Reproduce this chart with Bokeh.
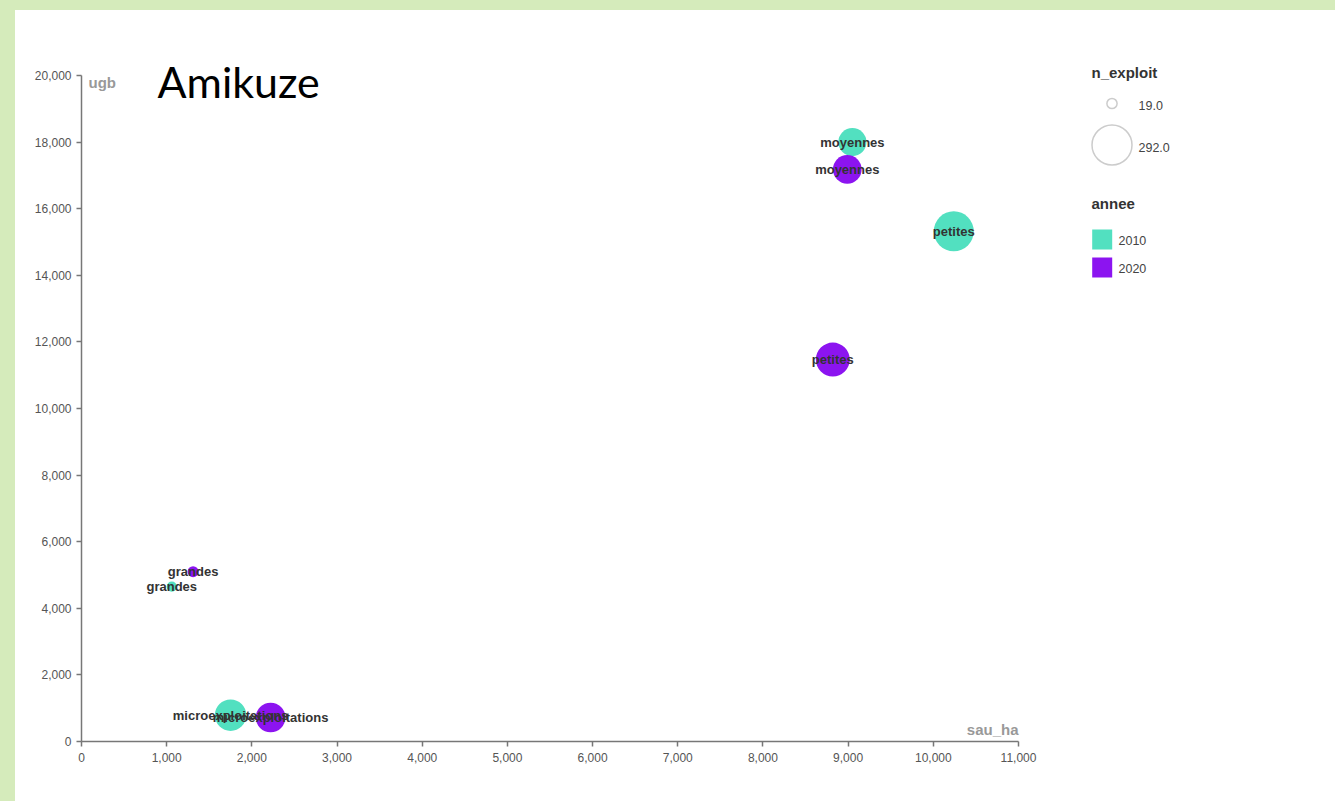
import math
from bokeh.plotting import figure
from bokeh.models import (Range1d, SingleIntervalTicker, NumeralTickFormatter,
                          LinearAxis, Label, ColumnDataSource, Spacer)
from bokeh.layouts import column, row
from bokeh.embed import file_html
from bokeh.resources import INLINE
from bokeh.core.properties import value

# ---------------- data ----------------
title_text = "Amikuze"
categories = ["microexploitations", "petites", "moyennes", "grandes"]
years = ["2010", "2020"]
sau_2010 = [1750, 10240, 9050, 1060]
ugb_2010 = [790, 15320, 18000, 4650]
n_2010 = [180, 292, 145, 19]
sau_2020 = [2220, 8820, 8990, 1310]
ugb_2020 = [720, 11470, 17180, 5100]
n_2020 = [160, 210, 150, 22]
x_axis_max = 11000
y_axis_max = 20000
x_tick_step = 1000
y_tick_step = 2000
year_colors = ["#52E0C0", "#8C14F0"]

# ---------------- layout constants (pixels) ----------------
PAD_L, PAD_T = 15, 10
W, H = 1320, 791
FL = 66          # frame left
FB = 731         # frame bottom (canvas px, from top)
X_PX = 937       # pixels spanned by 0..x_axis_max
Y_PX = 666       # pixels spanned by 0..y_axis_max
R_MAX = 20       # radius of largest bubble
GREEN = "#d5ebbb"


def dx(px):
    return (px - FL) * x_axis_max / X_PX


def dy(py):
    return (FB - py) * y_axis_max / Y_PX


n_all = n_2010 + n_2020
n_max = max(n_all)
n_min = min(n_all)


def bubble(n):
    return 2 * R_MAX * math.sqrt(n / n_max)


src = ColumnDataSource(dict(
    x=sau_2010 + sau_2020,
    y=ugb_2010 + ugb_2020,
    label=categories + categories,
    size=[bubble(v) for v in n_all],
    color=[year_colors[0]] * len(categories) + [year_colors[1]] * len(categories),
))

p = figure(width=W, height=H, x_range=Range1d(0, dx(W)), y_range=Range1d(0, dy(0)),
           output_backend="svg", toolbar_location=None,
           x_axis_type=None, y_axis_type=None,
           min_border_left=FL, min_border_bottom=H - FB,
           min_border_top=0, min_border_right=0,
           outline_line_color=None, background_fill_color="white",
           border_fill_color="white")
p.styles = {"background-color": "white"}

AX = dict(axis_line_color="#777777", axis_line_width=1.5,
          major_tick_line_color="#777777", major_tick_line_width=1.5,
          major_tick_in=0, major_tick_out=5,
          minor_tick_line_color=None,
          major_label_text_font="Liberation Sans",
          major_label_text_font_size="12px",
          major_label_text_color="#555555",
          formatter=NumeralTickFormatter(format="0,0"))

xaxis = LinearAxis(bounds=(0, x_axis_max), ticker=SingleIntervalTicker(interval=x_tick_step),
                   major_label_standoff=6, **AX)
yaxis = LinearAxis(bounds=(0, y_axis_max), ticker=SingleIntervalTicker(interval=y_tick_step),
                   major_label_standoff=5, **AX)
p.add_layout(xaxis, "below")
p.add_layout(yaxis, "left")

p.scatter("x", "y", size="size", fill_color="color", line_color=None, source=src)
p.text("x", "y", text="label", source=src, text_align="center", text_baseline="middle",
       text_font=value("Liberation Sans"), text_font_style="bold",
       text_font_size="13px", text_color="#333333")

# axis titles
p.add_layout(Label(x=dx(73), y=dy(72), text="ugb", text_align="left", text_baseline="middle",
                   text_font="Liberation Sans", text_font_style="bold",
                   text_font_size="15px", text_color="#999999"))
p.add_layout(Label(x=x_axis_max, y=dy(719), text="sau_ha", text_align="right",
                   text_baseline="middle", text_font="Liberation Sans",
                   text_font_style="bold", text_font_size="15px", text_color="#999999"))

# title
p.add_layout(Label(x=dx(142), y=dy(71), text=title_text, text_align="left",
                   text_baseline="alphabetic", text_font="Lato",
                   text_font_size="43px", text_color="#000000"))

# legend: bubble size
LEG = dict(text_font="Liberation Sans", text_baseline="middle", text_align="left")
p.add_layout(Label(x=dx(1076), y=dy(62), text="n_exploit", text_font_style="bold",
                   text_font_size="15px", text_color="#333333", **LEG))
p.scatter([dx(1096.5), dx(1096.5)], [dy(93), dy(134.5)],
          size=[bubble(n_min), bubble(n_max)], fill_color=None,
          line_color="#cccccc", line_width=1.5)
p.add_layout(Label(x=dx(1123), y=dy(95), text=f"{n_min:.1f}",
                   text_font_size="12.5px", text_color="#444444", **LEG))
p.add_layout(Label(x=dx(1123), y=dy(136.5), text=f"{n_max:.1f}",
                   text_font_size="12.5px", text_color="#444444", **LEG))

# legend: year colour
p.add_layout(Label(x=dx(1076), y=dy(193), text="annee", text_font_style="bold",
                   text_font_size="15px", text_color="#333333", **LEG))
p.scatter([dx(1086.7), dx(1086.7)], [dy(229), dy(257)], marker="square", size=20,
          fill_color=year_colors, line_color=None)
p.add_layout(Label(x=dx(1103), y=dy(230), text=years[0],
                   text_font_size="12.5px", text_color="#444444", **LEG))
p.add_layout(Label(x=dx(1103), y=dy(258), text=years[1],
                   text_font_size="12.5px", text_color="#444444", **LEG))

layout = column(Spacer(width=W + PAD_L, height=PAD_T),
                row(Spacer(width=PAD_L, height=H), p))

html = file_html(layout, INLINE)
html = html.replace("</head>", "<style>html,body{background-color:%s;}</style></head>" % GREEN, 1)
open("out.html", "w").write(html)
